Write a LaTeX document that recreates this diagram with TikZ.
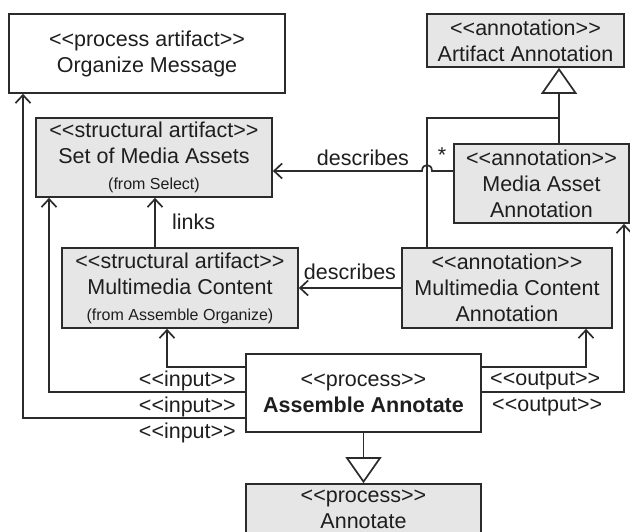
\documentclass[tikz,border=0pt]{standalone}
\usepackage{fontspec}
\setmainfont{Liberation Sans}
\usetikzlibrary{arrows.meta}
\definecolor{umlline}{HTML}{2B2B2B}
\definecolor{umlfill}{HTML}{E6E6E6}
\definecolor{umltext}{HTML}{1E1E1E}
\newcommand{\smallnote}[1]{{\fontsize{16}{19}\selectfont #1}}
% stereotype in doubled angle brackets, kept as separate characters
\newcommand{\stereo}[1]{<\kern0pt<#1>\kern0pt>}
\begin{document}
\begin{tikzpicture}[x=1pt,y=-1pt,
  box/.style={draw=umlline, line width=1.7pt, align=center, inner sep=0pt,
    font=\fontsize{21.5}{26}\selectfont, text=umltext},
  artbox/.style={box, fill=white},
  annbox/.style={box, fill=umlfill},
  lbl/.style={font=\fontsize{21.5}{26}\selectfont, text=umltext, inner sep=0pt},
  assoc/.style={draw=umlline, line width=1.7pt,
    -{Straight Barb[length=8pt,width=15pt]}},
  plain/.style={draw=umlline, line width=1.7pt},
  gen/.style={draw=umlline, line width=1.7pt,
    -{Triangle[open, length=26pt, width=36pt, fill=white]}}]
\useasboundingbox (0,0) rectangle (630,532);
\clip (0,0) rectangle (630,532);

% classes
\node[artbox, minimum width=276pt, minimum height=79pt] (org) at (147,53.5)
  {\stereo{process artifact}\\Organize Message};
\node[annbox, minimum width=236pt, minimum height=79pt] (sma) at (154,157.5)
  {\stereo{structural artifact}\\Set of Media Assets\\\smallnote{(from Select)}};
\node[annbox, minimum width=236pt, minimum height=80pt] (mmc) at (180,288)
  {\stereo{structural artifact}\\Multimedia Content\\\smallnote{(from Assemble Organize)}};
\node[artbox, minimum width=235pt, minimum height=78pt] (asm) at (363.5,393)
  {\stereo{process}\\\textbf{Assemble Annotate}};
\node[annbox, minimum width=235pt, minimum height=50pt] (ann) at (363.5,509)
  {\stereo{process}\\Annotate};
\node[annbox, minimum width=197pt, minimum height=53pt] (aa) at (525.5,40.5)
  {\stereo{annotation}\\Artifact Annotation};
\node[annbox, minimum width=175pt, minimum height=79pt] (maa) at (541.5,183.5)
  {\stereo{annotation}\\Media Asset\\Annotation};
\node[annbox, minimum width=210pt, minimum height=80pt] (mca) at (507,288)
  {\stereo{annotation}\\Multimedia Content\\Annotation};

% routing points
\coordinate (jmp) at (427,171);
\coordinate (gj)  at (559,118);
\coordinate (lx)  at (155,0);
\coordinate (in1) at (167,367);
\coordinate (in2) at (49,392);
\coordinate (in3) at (23,418);
\coordinate (out1) at (586,367);
\coordinate (out2) at (624,392);

% generalizations
\draw[gen] (maa.north -| gj) -- (aa.south -| gj);
\draw[plain] (mca.north -| jmp) |- (gj);
\draw[gen] (asm.south) -- (ann.north);

% associations
\draw[assoc] (maa.west |- jmp) -- ([xshift=5pt]jmp)
  .. controls ([xshift=5pt,yshift=8pt]jmp) and ([xshift=-5pt,yshift=8pt]jmp) ..
  ([xshift=-5pt]jmp) -- (sma.east |- jmp);
\draw[assoc] (mca.west) -- (mmc.east);
\draw[assoc] (mmc.north -| lx) -- (sma.south -| lx);

% inputs and outputs
\draw[assoc] (asm.west |- in1) -| (mmc.south -| in1);
\draw[assoc] (asm.west |- in2) -| (sma.south -| in2);
\draw[assoc] (asm.west |- in3) -| (org.south -| in3);
\draw[assoc] (asm.east |- out1) -| (mca.south -| out1);
\draw[assoc] (asm.east |- out2) -| (maa.south -| out2);

% labels
\node[lbl] (d1) at (363,158) {describes};
\node[lbl] (star) at (442,155) {*};
\node[lbl] (d2) at (350,272) {describes};
\node[lbl, anchor=west] (lk) at (172,222) {links};
\node[lbl, anchor=east] (i1) at (236,381) {\stereo{input}};
\node[lbl, anchor=east] (i2) at (236,407) {\stereo{input}};
\node[lbl, anchor=east] (i3) at (236,433) {\stereo{input}};
\node[lbl, anchor=west] (o1) at (490,381) {\stereo{output}};
\node[lbl, anchor=west] (o2) at (492,407) {\stereo{output}};
\end{tikzpicture}
\end{document}
